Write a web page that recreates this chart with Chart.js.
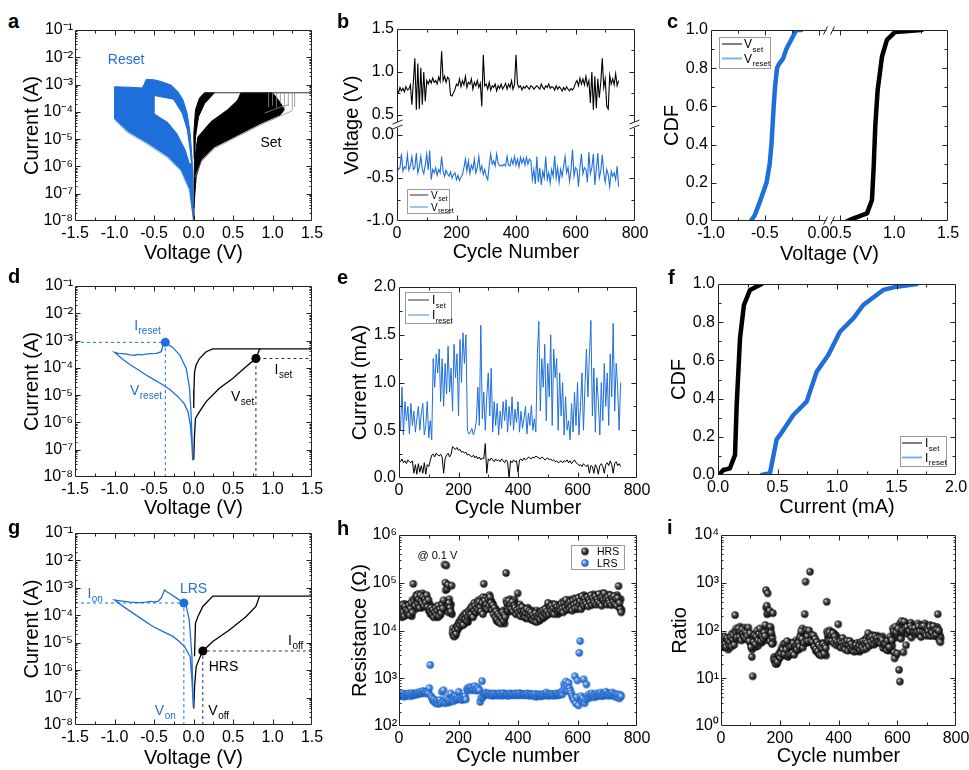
<!DOCTYPE html>
<html>
<head>
<meta charset="utf-8">
<title>Resistive switching statistics</title>
<script src="https://cdn.jsdelivr.net/npm/chart.js@4.4.1/dist/chart.umd.min.js"></script>
<style>
  html, body { margin: 0; padding: 0; background: #fff; }
  #fig { position: relative; width: 969px; height: 770px; overflow: hidden; background: #fff;
         font-family: "Liberation Sans", Arial, sans-serif; }
  #fig canvas { position: absolute; }
  .tag { position: absolute; z-index: 2; font-weight: bold; font-size: 20px; line-height: 20px; color: #000; }
</style>
</head>
<body>
<div id="fig">
  <div class="tag" style="left:8px;top:11px">a</div>
  <div class="tag" style="left:337px;top:11px">b</div>
  <div class="tag" style="left:667px;top:11px">c</div>
  <div class="tag" style="left:8px;top:266px">d</div>
  <div class="tag" style="left:337px;top:267px">e</div>
  <div class="tag" style="left:668px;top:267px">f</div>
  <div class="tag" style="left:8px;top:517px">g</div>
  <div class="tag" style="left:337px;top:518px">h</div>
  <div class="tag" style="left:667px;top:517px">i</div>
</div>
<script>
const BLUE = '#1f6fdb';
const LIGHT_BLUE = '#7db2f0';
const FONT = '"Liberation Sans", Arial, sans-serif';
Chart.defaults.font.family = FONT;
Chart.defaults.color = '#000';

// ---------- a : I-V bundles, [V, A] outlines of the dense curve families ----------
const aResetArea = [[0,1e-8],[-0.017,2.5e-8],[-0.05,1.4e-7],[-0.155,7.4e-7],[-0.324,2.3e-6],[-0.576,7.1e-6],[-0.828,1.9e-5],[-1.0,5.7e-5],
  [-1.0,8.3e-4],[-0.8,8.0e-4],[-0.65,7.5e-4],[-0.62,1.1e-3],[-0.6,1.55e-3],[-0.5,1.5e-3],[-0.41,1.3e-3],[-0.28,9.5e-4],
  [-0.197,5.5e-4],[-0.134,2.8e-4],[-0.08,8.9e-5],[-0.042,1.6e-5],[-0.017,1.7e-6],[-0.002,6e-8]];
const aResetHole = [[-0.49,3.6e-4],[-0.26,2.7e-4],[-0.155,8.9e-5],[-0.092,2.2e-5],[-0.055,4e-6],[-0.04,1.3e-6],
  [-0.092,4e-6],[-0.198,1.6e-5],[-0.324,4.4e-5],[-0.49,8.9e-5]];
const aResetFringe = [[-1.0,5.2e-5],[-0.83,1.7e-5],[-0.58,6.4e-6],[-0.33,2.1e-6],[-0.16,6.8e-7],[-0.05,1.3e-7]];
const aSetLrsArea = [[0.008,2e-6],[0.004,1.6e-5],[0.025,1.2e-4],[0.076,3.2e-4],[0.139,5e-4],[0.265,5e-4],
  [0.139,2e-4],[0.063,6.6e-5],[0.025,1.2e-5],[0.013,1.7e-6]];
const aSetHrsArea = [[0,1e-8],[0.006,3e-7],[0.013,1.7e-6],[0.055,1.2e-5],[0.223,4.4e-5],[0.433,1.2e-4],[0.559,2.7e-4],
  [0.6,5e-4],[1.0,5e-4],[1.1,2.2e-4],[1.15,1.2e-4],[1.1,7.8e-5],[0.853,3.8e-5],[0.559,1.4e-5],[0.265,5.2e-6],
  [0.097,1.7e-6],[0.034,4.2e-7],[0.004,3e-8]];
const aSetCurves = [[0.02,4e-7],[0.1,1.5e-6],[0.265,4.6e-6],[0.559,1.25e-5],[0.853,3.4e-5],[1.1,7e-5],[1.25,1.1e-4], null,
  [0.9,9e-5],[1.1,1.5e-4],[1.2,1.8e-4]];
const aSetJumps = [[0.95,1.5e-4],[0.95,5e-4], null, [1.0,1.7e-4],[1.0,5e-4], null, [1.05,1.4e-4],[1.05,5e-4], null,
  [1.1,2e-4],[1.1,5e-4], null, [1.15,1.3e-4],[1.15,5e-4], null, [1.2,1.6e-4],[1.2,5e-4], null,
  [1.25,1.2e-4],[1.25,5e-4], null, [1.28,1.5e-4],[1.28,5e-4]];
const aCompliance = [[0.14,5e-4],[1.5,5e-4]];

// ---------- b : switching voltages, one reading every 5 cycles ----------
const vSet = [
  0.80,0.76,0.82,0.78,0.81,0.77,0.83,0.79,0.80,0.85, 0.62,0.88,1.16,0.56,1.10,0.57,1.05,0.62,1.00,0.66,
  0.90,0.86,0.91,0.87,0.93,0.88,0.90,0.86,0.94,0.89, 1.24,0.90,0.95,0.88,0.94,0.92,0.73,0.72,0.76,0.80,
  0.86,0.84,0.92,0.83,0.90,0.85,0.95,0.82,0.88,0.86, 0.92,0.80,0.88,0.84,0.90,0.82,0.87,0.60,1.20,0.84,
  0.86,0.80,0.88,0.79,0.84,0.82,0.86,0.78,0.84,0.81, 0.86,0.80,0.83,0.87,0.80,0.86,0.82,0.90,0.80,0.85,
  1.20,0.86,0.82,0.84,0.79,0.83,0.81,0.84,0.82,0.80, 0.84,0.83,0.80,0.82,0.84,0.82,0.80,0.86,0.82,0.80,
  0.84,0.82,0.86,0.81,0.83,0.82,0.79,0.84,0.80,0.83, 0.81,0.78,0.82,0.79,0.83,0.80,0.78,0.81,0.79,0.82,
  0.87,0.90,0.84,0.93,0.86,0.92,0.85,0.95,0.84,0.90, 0.64,1.00,0.56,0.95,0.58,0.92,0.70,0.88,1.16,0.82,
  0.92,0.60,0.57,0.96,0.86,0.92,0.85,0.98,0.84,0.90];
const vReset = [
  -0.36,-0.40,-0.38,-0.22,-0.42,-0.37,-0.39,-0.23,-0.41,-0.36, -0.25,-0.40,-0.38,-0.21,-0.44,-0.37,-0.25,-0.40,-0.45,-0.35,
  -0.22,-0.41,-0.18,-0.52,-0.40,-0.44,-0.38,-0.47,-0.40,-0.44, -0.25,-0.42,-0.48,-0.41,-0.45,-0.48,-0.43,-0.50,-0.46,-0.44,
  -0.52,-0.47,-0.53,-0.49,-0.46,-0.38,-0.28,-0.42,-0.30,-0.45, -0.35,-0.40,-0.28,-0.44,-0.38,-0.25,-0.42,-0.36,-0.46,-0.40,
  -0.48,-0.52,-0.35,-0.22,-0.34,-0.30,-0.36,-0.22,-0.33,-0.36, -0.35,-0.36,-0.34,-0.36,-0.25,-0.35,-0.36,-0.28,-0.34,-0.25,
  -0.35,-0.28,-0.37,-0.26,-0.33,-0.27,-0.35,-0.26,-0.34,-0.28, -0.30,-0.52,-0.40,-0.57,-0.25,-0.55,-0.38,-0.58,-0.42,-0.50,
  -0.25,-0.52,-0.44,-0.56,-0.40,-0.48,-0.24,-0.50,-0.38,-0.55, -0.40,-0.48,-0.36,-0.25,-0.44,-0.38,-0.54,-0.40,-0.17,-0.48,
  -0.38,-0.40,-0.60,-0.38,-0.22,-0.45,-0.38,-0.40,-0.55,-0.20, -0.45,-0.38,-0.22,-0.58,-0.40,-0.21,-0.50,-0.42,-0.23,-0.44,
  -0.55,-0.40,-0.46,-0.60,-0.42,-0.48,-0.44,-0.52,-0.36,-0.60];
const bTickLabels = [-1.0, -0.5, 0.0, 0.5, 1.0, 1.5];
const B_SHIFT = 0.2674;   // broken axis: lower segment is shifted up by this much

// ---------- c : CDF of switching voltages ----------
const cResetV = [-0.63,-0.593,-0.546,-0.484,-0.454,-0.438,-0.417,-0.405,-0.386,-0.37,-0.33,-0.30,-0.253,-0.207,-0.16];
const cResetP = [0,0.03,0.10,0.20,0.30,0.40,0.60,0.70,0.80,0.82,0.85,0.90,0.95,1.0,1.0];
const cSetV = [0.562,0.623,0.747,0.793,0.809,0.824,0.846,0.886,0.932,1.009,1.256];
const cSetP = [0,0.014,0.04,0.11,0.284,0.5,0.686,0.86,0.948,0.99,1.0];
const cTickLabels = [-1.0, -0.5, 0.0, 0.5, 1.0, 1.5];
const C_SHIFT = 0.2963;   // broken axis: right segment is shifted left by this much

// ---------- e : switching currents (mA), one reading every 5 cycles ----------
const iReset = [
  0.72,0.50,0.95,0.45,0.80,0.60,0.75,0.46,0.78,0.55, 0.70,0.48,0.62,0.75,0.50,0.68,0.78,0.45,0.55,0.80,
  0.42,0.60,0.40,1.25,0.95,1.30,1.10,1.35,0.80,1.25, 0.75,1.20,0.88,1.38,0.90,1.15,0.70,1.40,1.05,1.30,
  0.65,1.45,1.00,1.52,1.20,1.50,0.50,0.46,0.48,0.52, 0.45,0.50,0.60,0.95,0.55,1.60,0.62,0.90,0.50,0.85,
  1.10,0.65,1.15,0.48,0.80,0.55,0.78,0.45,0.70,0.52, 0.80,0.60,0.82,0.48,0.75,0.55,0.85,0.50,0.72,0.58,
  0.80,0.48,0.70,0.52,0.62,0.75,0.46,0.68,0.55,0.76, 0.50,0.62,0.48,1.30,1.64,0.70,1.25,0.95,1.40,0.60,
  1.20,0.85,1.50,0.55,1.35,1.05,1.25,0.50,1.10,0.65, 1.00,0.45,0.85,0.50,0.60,0.40,0.78,0.48,0.90,0.55,
  1.00,0.45,0.75,1.10,0.50,0.95,1.35,0.85,1.28,1.65, 0.65,1.15,0.48,1.05,0.80,0.45,1.00,0.60,1.20,0.75,
  1.10,0.55,1.30,0.85,1.62,0.70,1.20,0.95,0.50,1.00];
const iSet = [
  0.19,0.17,0.20,0.16,0.18,0.15,0.19,0.17,0.16,0.18, 0.05,0.14,0.04,0.15,0.06,0.13,0.05,0.16,0.04,0.14,
  0.12,0.18,0.24,0.25,0.22,0.26,0.24,0.23,0.25,0.22, 0.05,0.20,0.24,0.26,0.22,0.25,0.33,0.31,0.30,0.32,
  0.29,0.30,0.27,0.28,0.26,0.27,0.24,0.25,0.23,0.22, 0.24,0.21,0.23,0.20,0.22,0.19,0.21,0.20,0.36,0.05,
  0.20,0.18,0.21,0.19,0.17,0.20,0.18,0.19,0.17,0.20, 0.18,0.16,0.19,0.17,0.00,0.18,0.16,0.19,0.17,0.18,
  0.06,0.19,0.20,0.18,0.21,0.19,0.20,0.22,0.21,0.20, 0.22,0.21,0.23,0.22,0.21,0.20,0.22,0.21,0.19,0.20,
  0.21,0.19,0.20,0.18,0.19,0.17,0.18,0.16,0.17,0.18, 0.16,0.18,0.17,0.19,0.16,0.18,0.15,0.17,0.19,0.16,
  0.15,0.13,0.14,0.12,0.15,0.13,0.12,0.14,0.05,0.13, 0.12,0.05,0.14,0.11,0.04,0.13,0.15,0.12,0.05,0.14,
  0.16,0.13,0.18,0.14,0.05,0.15,0.17,0.13,0.15,0.12];

// ---------- f : CDF of switching currents (mA) ----------
const fSetI = [0.008,0.045,0.10,0.143,0.157,0.185,0.218,0.269,0.367];
const fSetP = [0,0.026,0.035,0.105,0.366,0.716,0.89,0.969,1.0];
const fResetI = [0.367,0.437,0.493,0.521,0.633,0.745,0.829,0.927,1.025,1.137,1.221,1.389,1.502,1.67];
const fResetP = [0,0.01,0.187,0.21,0.314,0.384,0.541,0.628,0.75,0.82,0.89,0.969,0.986,1.0];

// ---------- d : single cycle, [V, A] ----------
const dReset = [[-0.009,5.6e-8],[-0.03,1.9e-6],[-0.05,1.8e-5],[-0.092,9.5e-5],[-0.176,3e-4],[-0.26,5.5e-4],[-0.357,8.6e-4],
  [-0.387,6.9e-4],[-0.407,3.9e-4],[-0.47,3.4e-4],[-0.55,3.3e-4],[-0.6,3.2e-4],[-0.65,3.0e-4],[-0.7,3.1e-4],[-0.75,2.9e-4],
  [-0.8,3.0e-4],[-0.85,3.2e-4],[-0.9,3.3e-4],[-0.95,3.4e-4],[-1.0,3.7e-4],[-0.9,2.1e-4],[-0.8,1.3e-4],[-0.7,8.5e-5],
  [-0.6,5.5e-5],[-0.5,3.7e-5],[-0.4,2.5e-5],[-0.3,1.6e-5],[-0.2,9e-6],[-0.12,5e-6],[-0.07,2.5e-6],[-0.04,8e-7],
  [-0.02,1.5e-7],[-0.01,4e-8]];
const dSet = [[0.003,4.3e-8],[0.012,3e-7],[0.025,1.4e-6],[0.076,2.5e-6],[0.16,5.8e-6],[0.328,1.8e-5],[0.496,4.1e-5],
  [0.664,1.1e-4],[0.79,2.2e-4],[0.832,4.5e-4],[0.845,5e-4],[1.5,5e-4],[0.243,5e-4],[0.16,3.9e-4],[0.076,2.2e-4],
  [0.034,1.3e-4],[0.013,7.2e-5],[0.006,1.5e-5],[0.003,3.4e-6]];
const dResetGuide = [[-1.5,8.6e-4],[-0.357,8.6e-4],[-0.357,1e-8]];
const dSetGuide = [[0.79,1e-8],[0.79,2.2e-4],[1.5,2.2e-4]];
const dResetPoint = [[-0.357,8.6e-4]];
const dSetPoint = [[0.79,2.2e-4]];

// ---------- g : read definitions, [V, A] ----------
const gReset = [[-0.003,4.7e-8],[-0.02,3.2e-6],[-0.054,6.8e-5],[-0.092,2.1e-4],[-0.122,2.8e-4],[-0.219,4.3e-4],[-0.3,6.2e-4],
  [-0.345,7.4e-4],[-0.366,8.5e-4],[-0.408,4.3e-4],[-0.45,3.2e-4],[-0.5,3.1e-4],[-0.55,3.2e-4],[-0.6,3.0e-4],[-0.7,2.9e-4],
  [-0.8,3.0e-4],[-0.9,3.3e-4],[-1.0,3.6e-4],[-0.9,2.2e-4],[-0.765,1.2e-4],[-0.64,6.8e-5],[-0.513,3.9e-5],[-0.39,2.6e-5],
  [-0.261,1.7e-5],[-0.18,1.1e-5],[-0.113,7.2e-6],[-0.042,3.1e-6],[-0.017,3.3e-7],[-0.003,4.5e-8]];
const gSet = [[0.003,4e-8],[0.015,3e-7],[0.034,1.35e-6],[0.076,2.7e-6],[0.118,5e-6],[0.244,1.1e-5],[0.454,2.9e-5],
  [0.664,8.9e-5],[0.79,2.1e-4],[0.832,4.6e-4],[0.845,5e-4],[1.5,5e-4],[0.244,5e-4],[0.118,2.1e-4],[0.055,8.9e-5],
  [0.025,5.1e-5],[0.013,3.2e-6]];
const gOnGuide = [[-1.5,2.8e-4],[-0.122,2.8e-4],[-0.122,1e-8]];
const gOffGuide = [[0.118,1e-8],[0.118,5e-6],[1.5,5e-6]];
const gOnPoint = [[-0.122,2.8e-4]];
const gOffPoint = [[0.118,5e-6]];

// ---------- h, i : read at 0.1 V, readings at cycles 0,3,6,... and 1,4,7,... ----------
const hrsK = [ // kOhm, cycles 0,3,6,...
  25,30,22,28,35,24,20,32,27,23, 26,34,21,29,38,24,95,42,33,48, 52,37,45,30,55,41,36,50,33,46,
  39,55,31,44,28,25,30,22,27,19, 24,30,21,26,33,20,28,23,35,29, 43,240,100,230,75,90,38,30,25,87,
  9,8,7.5,10,8.5,12,11,14,13,16, 15,18,13,20,17,22,16,19,25,21, 28,22,30,19,26,33,24,29,36,27,
  40,31,25,38,22,95,42,30,35,28, 45,33,50,38,27,34,22,30,19,25, 17,22,15,20,14,18,24,16,21,19,
  160,38,26,42,30,35,28,40,25,33, 30,22,27,60,24,29,20,26,31,22, 25,19,23,28,18,22,26,20,24,17,
  21,16,19,23,15,20,18,22,17,24, 20,26,19,23,28,21,25,38,22,30, 26,33,24,29,22,35,27,31,25,28,
  32,26,36,29,24,38,30,44,27,33, 36,28,40,31,26,42,34,29,45,37, 30,48,35,41,28,52,38,33,46,40,
  36,50,32,44,39,55,34,47,41,38, 52,35,45,40,58,37,48,33,51,43, 60,39,46,35,50,42,38,55,34,47,
  40,52,36,45,33,48,85,38,28,24];
const hrsK2 = [ // kOhm, cycles 1,4,7,...
  20,33,26,19,30,24,36,21,29,26, 31,23,36,27,20,44,30,38,28,55, 40,58,34,48,38,30,60,43,52,37,
  48,34,42,26,36,22,31,26,20,24, 27,22,32,19,29,25,21,31,26,38, 35,27,70,40,33,24,45,28,35,22,
  11,7.8,9.5,8,12,10,13,15,12,17, 13,20,16,14,23,18,21,15,26,19, 24,32,20,27,38,23,30,26,42,31,
  33,45,28,36,50,26,34,48,30,40, 37,55,30,42,29,36,26,22,28,16, 20,15,24,18,22,16,26,17,14,21,
  42,30,36,25,45,32,38,26,34,44, 36,25,33,28,22,35,25,30,20,27, 21,28,18,24,30,20,25,22,17,26,
  18,24,16,20,26,19,23,16,25,21, 24,18,27,22,20,30,23,27,34,25, 30,24,36,27,31,24,29,34,22,32,
  28,35,25,40,31,27,35,28,39,30, 33,44,29,38,34,30,47,33,39,28, 42,34,50,37,45,32,43,55,36,48,
  44,35,48,40,53,36,45,38,57,42, 40,48,37,55,43,50,39,46,60,38, 45,52,40,48,36,56,44,39,50,42,
  50,38,47,42,55,35,43,30,45,27];
const lrs = [ // Ohm, cycles 0,3,6,...
  450,420,470,430,480,440,410,460,430,470, 440,480,450,420,460,490,440,470,450,480, 460,500,470,490,520,480,500,540,490,520,
  510,480,530,490,620,1900,420,380,340,360, 320,300,340,310,290,330,350,300,520,320, 560,340,300,380,320,350,310,330,480,340,
  360,330,380,420,350,400,370,520,390,360, 380,350,400,370,420,360,580,620,560,650, 600,640,560,620,580,680,600,550,640,590,
  560,320,380,870,400,450,480,500,460,470, 450,480,440,470,460,430,480,450,470,440, 460,440,480,450,470,430,460,490,450,440,
  470,450,430,460,480,440,470,450,460,440, 480,450,470,440,460,490,450,470,440,460, 450,470,440,460,480,450,430,470,460,440,
  460,440,420,470,410,450,430,460,440,420, 450,430,470,440,460,500,450,430,470,440, 460,440,470,450,430,460,480,450,440,470,
  450,480,520,460,560,750,620,850,700,540, 800,620,540,480,420,380,350,1100,300,400, 900,270,3400,6000,420,330,380,950,300,360,
  740,420,380,460,400,440,480,420,450,400, 460,420,480,440,470,430,500,450,420,460, 480,440,520,450,470,430,480,460,440,500,
  450,420,470,440,400,460,430,380,450,420];
const ratio = [ // cycles 0,3,6,...
  55,70,48,65,75,52,45,68,60,50, 58,72,46,66,80,50,210,90,72,100, 110,75,95,62,105,85,72,95,68,90,
  78,115,60,88,45,28,11,58,80,52, 75,100,62,85,110,60,80,75,68,90, 77,700,330,600,230,260,120,90,52,230,
  25,24,20,24,22,30,30,27,33,44, 40,52,32,54,40,60,28,31,45,32, 47,34,54,31,45,48,40,53,56,46,
  71,97,66,44,55,220,1050,60,76,60, 100,1700,62,80,58,79,46,67,41,57, 37,50,31,44,30,42,52,33,47,43,
  400,84,60,91,62,80,60,88,54,75, 62,49,57,135,52,59,44,55,70,48, 56,40,52,61,38,49,60,43,52,39,
  46,36,45,49,37,44,42,48,39,57, 44,60,40,52,61,42,56,88,47,68, 57,75,51,64,51,76,56,69,57,60,
  71,54,69,63,43,51,48,52,39,61, 45,45,74,65,62,110,97,26,120,92, 33,110,15,8.5,67,158,100,35,153,111,
  49,119,84,96,98,125,71,112,91,95, 113,83,94,91,123,86,96,73,121,93, 125,89,88,78,106,98,79,120,77,94,
  89,124,77,102,83,104,220,100,62,57];
const ratio2 = [ // cycles 1,4,7,...
  62,48,58,72,44,66,52,60,40,68, 52,64,85,55,70,95,62,110,78,88, 95,120,70,100,82,65,115,88,100,76,
  92,70,85,55,75,40,68,50,62,45, 58,70,48,80,66,92,56,70,100,62, 130,300,220,95,70,60,110,80,70,55,
  28,22,26,20,23,26,34,29,38,33, 35,45,38,30,48,42,36,55,42,38, 38,56,42,50,36,62,44,58,40,65,
  80,60,110,72,90,65,100,55,85,70, 82,62,75,55,70,48,60,38,50,35, 44,32,48,38,36,55,40,35,50,30,
  95,70,82,100,66,75,92,70,85,65, 80,60,70,52,65,45,58,62,50,55, 48,58,42,55,50,44,58,40,50,46,
  40,52,38,47,55,41,50,36,46,52, 50,58,46,64,52,70,58,62,76,66, 68,58,80,62,72,55,66,78,60,70,
  62,70,55,75,58,48,60,42,55,40, 38,55,42,60,48,80,35,70,30,100, 80,120,95,140,70,110,130,90,145,100,
  105,135,90,120,100,145,85,125,110,95, 100,125,90,140,105,118,88,130,95,110, 100,140,92,115,85,120,95,130,88,110,
  95,120,80,110,90,118,72,100,80,70];

// ---------- helpers ----------
const FIG = document.getElementById('fig');
const EXTRA = {};
const SUP = {'-': '\u207B', '0': '\u2070', '1': '\u00B9', '2': '\u00B2', '3': '\u00B3', '4': '\u2074',
             '5': '\u2075', '6': '\u2076', '7': '\u2077', '8': '\u2078', '9': '\u2079'};
function pow10Label(v) {
  const e = String(Math.round(Math.log10(v)));
  return '10' + e.split('').map(c => SUP[c]).join('');
}
const fmt1 = v => (Math.abs(v) < 1e-9 ? 0 : v).toFixed(1);
const pts = arr => arr.map(p => p ? {x: p[0], y: p[1]} : {x: null, y: null});
const xy = (xs, ys) => xs.map((x, i) => ({x: x, y: ys[i]}));

function subText(ctx, x, y, main, sub, size, color, align, subSize) {
  const ss = subSize || Math.round(size * 0.7);
  ctx.save();
  ctx.fillStyle = color; ctx.textBaseline = 'alphabetic'; ctx.textAlign = 'left';
  ctx.font = size + 'px ' + FONT; const w1 = ctx.measureText(main).width;
  ctx.font = ss + 'px ' + FONT; const w2 = sub ? ctx.measureText(sub).width : 0;
  const x0 = align === 'center' ? x - (w1 + w2) / 2 : x;
  const base = y + size * 0.36;
  ctx.font = size + 'px ' + FONT; ctx.fillText(main, x0, base);
  if (sub) { ctx.font = ss + 'px ' + FONT; ctx.fillText(sub, x0 + w1 + 0.5, base + size * 0.28); }
  ctx.restore();
}

function tickSets(scale, brk) {
  const maj = scale.ticks.map(t => t.value);
  const minor = [];
  if (scale.type === 'logarithmic') {
    maj.slice(0, -1).forEach(v => { for (let k = 2; k < 10; k++) minor.push(v * k); });
  } else {
    for (let i = 0; i < maj.length - 1; i++) {
      if (brk != null && (brk - maj[i]) * (brk - maj[i + 1]) < 0) continue;
      minor.push((maj[i] + maj[i + 1]) / 2);
    }
  }
  return {maj, minor};
}

// box frame with inward ticks on all four sides, and optional axis breaks
const framePlugin = {
  id: 'frame',
  afterDraw(chart) {
    const ex = EXTRA[chart.canvas.id]; if (!ex) return;
    const {ctx, chartArea: a} = chart;
    const xs = chart.scales.x, ys = chart.scales.y;
    const L = a.left + 0.5, R = a.right - 0.5, T = a.top + 0.5, B = a.bottom - 0.5;
    ctx.save();
    ctx.strokeStyle = '#222'; ctx.lineWidth = 1;
    const seg = (x1, y1, x2, y2) => { ctx.beginPath(); ctx.moveTo(x1, y1); ctx.lineTo(x2, y2); ctx.stroke(); };
    const by = ex.breakY != null ? ys.getPixelForValue(ex.breakY) : null;
    [L, R].forEach(x => {
      if (by == null) { seg(x, T, x, B); return; }
      seg(x, T, x, by - 3); seg(x, by + 3, x, B);
      seg(x - 5, by - 1, x + 5, by - 5); seg(x - 5, by + 4, x + 5, by);
    });
    const bx = ex.breakX != null ? xs.getPixelForValue(ex.breakX) : null;
    [T, B].forEach(y => {
      if (bx == null) { seg(L, y, R, y); return; }
      seg(L, y, bx - 3, y); seg(bx + 3, y, R, y);
      seg(bx - 6, y + 4, bx - 2, y - 4); seg(bx + 1, y + 4, bx + 5, y - 4);
    });
    const xt = tickSets(xs, ex.breakX), yt = tickSets(ys, ex.breakY);
    const xTick = (v, len) => {
      const p = Math.round(xs.getPixelForValue(v)) + 0.5;
      if (p < L + 1 || p > R - 1) return;
      seg(p, B, p, B - len); seg(p, T, p, T + len);
    };
    const yTick = (v, len) => {
      const p = Math.round(ys.getPixelForValue(v)) + 0.5;
      if (p < T + 1 || p > B - 1) return;
      seg(L, p, L + len, p); seg(R, p, R - len, p);
    };
    xt.maj.forEach(v => xTick(v, 5)); xt.minor.forEach(v => xTick(v, 3));
    yt.maj.forEach(v => yTick(v, 5)); yt.minor.forEach(v => yTick(v, ys.type === 'logarithmic' ? 2 : 3));
    ctx.restore();
  }
};

// free text with subscripts, anchored in data coordinates
const notesPlugin = {
  id: 'notes',
  afterDraw(chart) {
    const ex = EXTRA[chart.canvas.id]; if (!ex || !ex.notes) return;
    ex.notes.forEach(n => {
      const x = chart.scales.x.getPixelForValue(n.x);
      const y = chart.scales.y.getPixelForValue(n.y);
      subText(chart.ctx, x, y, n.main, n.sub, n.size || 14, n.color || '#000', 'center');
    });
  }
};

// boxed legends (the built-in one cannot set subscripts)
const legendPlugin = {
  id: 'boxLegend',
  afterDraw(chart) {
    const ex = EXTRA[chart.canvas.id]; if (!ex || !ex.legend) return;
    const lg = ex.legend, ctx = chart.ctx;
    ctx.save(); ctx.translate(-ex.ox, -ex.oy);
    ctx.fillStyle = '#fff'; ctx.fillRect(lg.box[0], lg.box[1], lg.box[2], lg.box[3]);
    ctx.strokeStyle = '#9a9a9a'; ctx.lineWidth = 1;
    ctx.strokeRect(lg.box[0] + 0.5, lg.box[1] + 0.5, lg.box[2], lg.box[3]);
    lg.items.forEach((it, i) => {
      const y = lg.rows[i];
      if (it.img) ctx.drawImage(it.img, lg.mark - it.img.width / 2, y - it.img.height / 2);
      else {
        ctx.strokeStyle = it.color; ctx.lineWidth = it.lw || 1;
        ctx.beginPath(); ctx.moveTo(lg.line[0], y); ctx.lineTo(lg.line[1], y); ctx.stroke();
      }
      subText(ctx, lg.text, y, it.main, it.sub, lg.size, '#000', 'left', lg.subSize);
    });
    ctx.restore();
  }
};
Chart.register(framePlugin, notesPlugin, legendPlugin);

function ball(c0, c1, c2, r) {
  const s = Math.ceil(r * 2 + 2);
  const cv = document.createElement('canvas'); cv.width = cv.height = s;
  const g = cv.getContext('2d'), m = s / 2;
  const grd = g.createRadialGradient(m - r * 0.4, m - r * 0.4, 0.2, m, m, r);
  grd.addColorStop(0, c0); grd.addColorStop(0.45, c1); grd.addColorStop(1, c2);
  g.fillStyle = grd; g.beginPath(); g.arc(m, m, r, 0, Math.PI * 2); g.fill();
  return cv;
}
const BALL_K = ball('#e6e6e6', '#4a4a4a', '#050505', 3.7);
const BALL_B = ball('#e2eeff', '#4a90ea', '#1656b8', 3.7);

function axisTitle(text) {
  return {display: true, text: text, font: {size: 20, lineHeight: 1.2}, padding: 0, color: '#000'};
}
function linAxis(o) {
  const ax = {
    type: 'linear', position: o.position, min: o.min, max: o.max,
    grid: {display: false, drawTicks: false}, border: {display: false},
    title: axisTitle(o.title),
    ticks: {stepSize: o.step, autoSkip: false, maxRotation: 0, minRotation: 0, padding: 3,
            font: {size: 16}, color: '#000', callback: o.fmt || fmt1}
  };
  if (o.at) ax.afterBuildTicks = s => { s.ticks = o.at.map(v => ({value: v})); };
  return ax;
}
function logAxis(lo, hi, title) {
  const dec = [];
  for (let e = lo; e <= hi; e++) dec.push(Number('1e' + e));
  return {
    type: 'logarithmic', position: 'left', min: dec[0], max: dec[dec.length - 1],
    grid: {display: false, drawTicks: false}, border: {display: false},
    title: axisTitle(title),
    ticks: {autoSkip: false, padding: 2, font: {size: 16}, color: '#000', callback: v => pow10Label(v)},
    afterBuildTicks: s => { s.ticks = dec.map(v => ({value: v})); }
  };
}
const voltAxis = () => linAxis({position: 'bottom', min: -1.5, max: 1.5, step: 0.5, title: 'Voltage (V)'});
const cycleAxis = t => linAxis({position: 'bottom', min: 0, max: 800, step: 200, title: t, fmt: v => String(Math.round(v))});

function lineDs(data, color, w, extra) {
  return Object.assign({data: data, borderColor: color, backgroundColor: color, borderWidth: w, showLine: true,
    pointRadius: 0, pointHoverRadius: 0, tension: 0, fill: false}, extra || {});
}
const area = (arr, color, order) => lineDs(pts(arr), color, 1, {fill: 'shape', order: order});
const dots = (data, img, order) => ({data: data, showLine: false, pointStyle: img, pointRadius: 3.7,
  pointHoverRadius: 3.7, borderWidth: 0, order: order});

function makeChart(box, cfg, extra) {
  const left = box.ytx - 12, top = box.T - 14;
  const yW = box.L - left, xH = box.xty + 12 - (box.T + box.H);
  const w = yW + box.W + 24, h = 14 + box.H + xH;
  const cv = document.createElement('canvas');
  cv.id = 'panel-' + box.id; cv.width = w; cv.height = h;
  Object.assign(cv.style, {left: left + 'px', top: top + 'px', width: w + 'px', height: h + 'px'});
  FIG.appendChild(cv);
  Object.values(cfg.options.scales).forEach(s => {
    if (s.display === false) return;
    if (s.position === 'bottom') s.afterFit = sc => { sc.height = xH; };
    else s.afterFit = sc => { sc.width = yW; };
  });
  EXTRA[cv.id] = Object.assign({ox: left, oy: top}, extra || {});
  return new Chart(cv, cfg);
}
function opts(scales) {
  return {
    responsive: false, animation: false, devicePixelRatio: 1, events: [],
    layout: {padding: {left: 0, right: 24, top: 14, bottom: 0}},
    plugins: {legend: {display: false}, tooltip: {enabled: false}},
    scales: scales
  };
}

const BOX = {
  a: {id: 'a', L: 75,  T: 30,  W: 237, H: 191, ytx: 32,  xty: 253},
  b: {id: 'b', L: 397, T: 29,  W: 238, H: 192, ytx: 352, xty: 252},
  c: {id: 'c', L: 711, T: 30,  W: 237, H: 191, ytx: 672, xty: 254},
  d: {id: 'd', L: 75,  T: 286, W: 237, H: 191, ytx: 32,  xty: 508},
  e: {id: 'e', L: 399, T: 287, W: 238, H: 191, ytx: 360, xty: 508},
  f: {id: 'f', L: 718, T: 284, W: 238, H: 191, ytx: 679, xty: 507},
  g: {id: 'g', L: 75,  T: 533, W: 237, H: 192, ytx: 32,  xty: 758},
  h: {id: 'h', L: 399, T: 535, W: 238, H: 191, ytx: 360, xty: 756},
  i: {id: 'i', L: 721, T: 535, W: 235, H: 191, ytx: 680, xty: 756}
};

// ---------- a ----------
makeChart(BOX.a, {
  type: 'line',
  data: {datasets: [
    lineDs(pts(aResetFringe), LIGHT_BLUE, 1, {order: 1}),
    lineDs(pts(aSetCurves), '#8a8a8a', 0.8, {order: 1}),
    lineDs(pts(aSetJumps), '#8a8a8a', 0.8, {order: 1}),
    lineDs(pts(aCompliance), '#333', 1, {order: 2}),
    area(aResetHole, '#fff', 3),
    area(aResetArea, BLUE, 4),
    area(aSetLrsArea, '#000', 4),
    area(aSetHrsArea, '#000', 4)
  ]},
  options: opts({x: voltAxis(), y: logAxis(-8, -1, 'Current (A)')})
}, {notes: [
  {x: -0.853, y: 8.7e-3, main: 'Reset', color: BLUE},
  {x: 0.98, y: 7.9e-6, main: 'Set', color: '#000'}
]});

// ---------- b ----------
const bCycles = vSet.map((_, i) => i * 5);
makeChart(BOX.b, {
  type: 'line',
  data: {datasets: [
    lineDs(xy(bCycles, vSet), '#000', 1.1, {yAxisID: 'y'}),
    lineDs(xy(bCycles, vReset), BLUE, 1.1, {yAxisID: 'yB'})
  ]},
  options: opts({
    x: cycleAxis('Cycle Number'),
    y: linAxis({position: 'left', min: -1 + B_SHIFT, max: 1.5, title: 'Voltage (V)',
                at: bTickLabels.map(v => v <= 0 ? v + B_SHIFT : v),
                fmt: (v, i) => fmt1(bTickLabels[i])}),
    yB: {type: 'linear', display: false, min: -1, max: 1.5 - B_SHIFT}
  })
}, {
  breakY: (0.5 + B_SHIFT) / 2,
  legend: {box: [407, 189, 42, 24], rows: [195, 207], line: [410, 428], text: 431, size: 10, subSize: 7,
    items: [{main: 'V', sub: 'set', color: '#333', lw: 1}, {main: 'V', sub: 'reset', color: LIGHT_BLUE, lw: 1.5}]}
});

// ---------- c ----------
makeChart(BOX.c, {
  type: 'line',
  data: {datasets: [
    lineDs(xy(cResetV, cResetP), BLUE, 4.5, {xAxisID: 'x', borderCapStyle: 'round', borderJoinStyle: 'round'}),
    lineDs(xy(cSetV, cSetP), '#000', 4.5, {xAxisID: 'xR', borderCapStyle: 'round', borderJoinStyle: 'round'})
  ]},
  options: opts({
    x: linAxis({position: 'bottom', min: -1, max: 1.5 - C_SHIFT, title: 'Voltage (V)',
                at: cTickLabels.map(v => v <= 0 ? v : v - C_SHIFT),
                fmt: (v, i) => fmt1(cTickLabels[i])}),
    xR: {type: 'linear', display: false, position: 'bottom', min: -1 + C_SHIFT, max: 1.5},
    y: linAxis({position: 'left', min: 0, max: 1, step: 0.2, title: 'CDF'})
  })
}, {
  breakX: (0.5 - C_SHIFT) / 2,
  legend: {box: [719, 37, 51, 31], rows: [44, 58.5], line: [722, 742], text: 744, size: 12, subSize: 8,
    items: [{main: 'V', sub: 'set', color: '#000', lw: 1}, {main: 'V', sub: 'reset', color: LIGHT_BLUE, lw: 2}]}
});

// ---------- d ----------
makeChart(BOX.d, {
  type: 'line',
  data: {datasets: [
    lineDs(pts(dResetPoint), BLUE, 0, {showLine: false, pointRadius: 4.5, pointBackgroundColor: BLUE, order: 0}),
    lineDs(pts(dSetPoint), '#000', 0, {showLine: false, pointRadius: 4.5, pointBackgroundColor: '#000', order: 0}),
    lineDs(pts(dReset), BLUE, 1.3, {order: 1}),
    lineDs(pts(dSet), '#000', 1.3, {order: 1}),
    lineDs(pts(dResetGuide), BLUE, 1, {borderDash: [3, 3], order: 2}),
    lineDs(pts(dSetGuide), '#333', 1, {borderDash: [3, 3], order: 2})
  ]},
  options: opts({x: voltAxis(), y: logAxis(-8, -1, 'Current (A)')})
}, {notes: [
  {x: -0.586, y: 3.7e-3, main: 'I', sub: 'reset', color: BLUE},
  {x: -0.605, y: 1.5e-5, main: 'V', sub: 'reset', color: BLUE},
  {x: 1.135, y: 9e-5, main: 'I', sub: 'set', color: '#000'},
  {x: 0.618, y: 9.3e-6, main: 'V', sub: 'set', color: '#000'}
]});

// ---------- e ----------
const eCycles = iSet.map((_, i) => i * 5);
makeChart(BOX.e, {
  type: 'line',
  data: {datasets: [
    lineDs(xy(eCycles, iSet), '#000', 1),
    lineDs(xy(eCycles, iReset), BLUE, 1)
  ]},
  options: opts({
    x: cycleAxis('Cycle Number'),
    y: linAxis({position: 'left', min: 0, max: 2, step: 0.5, title: 'Current (mA)'})
  })
}, {
  legend: {box: [405, 292, 46, 31], rows: [300, 315], line: [408, 429], text: 432, size: 12, subSize: 7.5,
    items: [{main: 'I', sub: 'set', color: '#333', lw: 1}, {main: 'I', sub: 'reset', color: LIGHT_BLUE, lw: 1.5}]}
});

// ---------- f ----------
makeChart(BOX.f, {
  type: 'line',
  data: {datasets: [
    lineDs(xy(fSetI, fSetP), '#000', 4.5, {borderCapStyle: 'round', borderJoinStyle: 'round'}),
    lineDs(xy(fResetI, fResetP), BLUE, 4.5, {borderCapStyle: 'round', borderJoinStyle: 'round'})
  ]},
  options: opts({
    x: linAxis({position: 'bottom', min: 0, max: 2, step: 0.5, title: 'Current (mA)'}),
    y: linAxis({position: 'left', min: 0, max: 1, step: 0.2, title: 'CDF'})
  })
}, {
  legend: {box: [900, 436, 46, 30], rows: [443, 457.5], line: [902, 922], text: 925, size: 12, subSize: 8,
    items: [{main: 'I', sub: 'set', color: '#000', lw: 1}, {main: 'I', sub: 'reset', color: LIGHT_BLUE, lw: 2}]}
});

// ---------- g ----------
makeChart(BOX.g, {
  type: 'line',
  data: {datasets: [
    lineDs(pts(gOnPoint), BLUE, 0, {showLine: false, pointRadius: 4.5, pointBackgroundColor: BLUE, order: 0}),
    lineDs(pts(gOffPoint), '#000', 0, {showLine: false, pointRadius: 4.5, pointBackgroundColor: '#000', order: 0}),
    lineDs(pts(gReset), BLUE, 1.3, {order: 1}),
    lineDs(pts(gSet), '#000', 1.3, {order: 1}),
    lineDs(pts(gOnGuide), BLUE, 1, {borderDash: [3, 3], order: 2}),
    lineDs(pts(gOffGuide), '#333', 1, {borderDash: [3, 3], order: 2})
  ]},
  options: opts({x: voltAxis(), y: logAxis(-8, -1, 'Current (A)')})
}, {notes: [
  {x: -1.248, y: 6.5e-4, main: 'I', sub: 'on', color: BLUE},
  {x: 0.0, y: 1e-3, main: 'LRS', color: BLUE},
  {x: 1.29, y: 1.25e-5, main: 'I', sub: 'off', color: '#000'},
  {x: 0.38, y: 1.4e-6, main: 'HRS', color: '#000'},
  {x: -0.36, y: 3.6e-8, main: 'V', sub: 'on', color: BLUE},
  {x: 0.316, y: 3.6e-8, main: 'V', sub: 'off', color: '#000'}
]});

// ---------- h ----------
const hCycles = hrsK.map((_, i) => i * 3);
const hCycles2 = hrsK2.map((_, i) => i * 3 + 1);
makeChart(BOX.h, {
  type: 'line',
  data: {datasets: [
    dots(xy(hCycles, lrs), BALL_B, 1),
    dots(xy(hCycles, hrsK.map(v => v * 1000)), BALL_K, 2),
    dots(xy(hCycles2, hrsK2.map(v => v * 1000)), BALL_K, 3)
  ]},
  options: opts({x: cycleAxis('Cycle number'), y: logAxis(2, 6, 'Resistance (\u03A9)')})
}, {
  notes: [{x: 129, y: 3.8e5, main: '@ 0.1 V', size: 11}],
  legend: {box: [571, 545, 53, 24], rows: [551.5, 563], mark: 585, text: 597, size: 10.5, subSize: 7,
    items: [{main: 'HRS', img: BALL_K}, {main: 'LRS', img: BALL_B}]}
});

// ---------- i ----------
const iCycles = ratio.map((_, i) => i * 3);
const iCycles2 = ratio2.map((_, i) => i * 3 + 1);
makeChart(BOX.i, {
  type: 'line',
  data: {datasets: [
    dots(xy(iCycles, ratio), BALL_K, 1),
    dots(xy(iCycles2, ratio2), BALL_K, 2)
  ]},
  options: opts({x: cycleAxis('Cycle number'), y: logAxis(0, 4, 'Ratio')})
});
</script>
</body>
</html>
